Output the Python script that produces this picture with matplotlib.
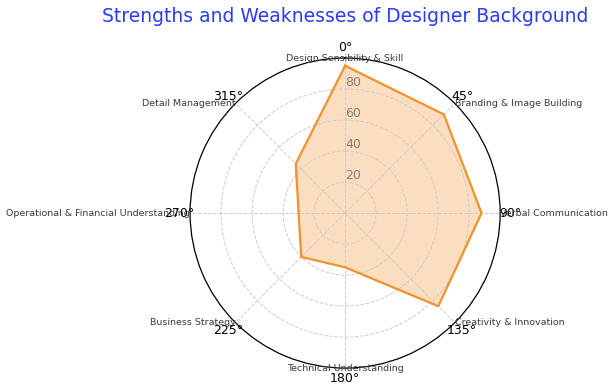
import numpy as np
import matplotlib
matplotlib.use("Agg")
import matplotlib.pyplot as plt

categories = ["Design Sensibility & Skill", "Branding & Image Building", "Verbal Communication",
              "Creativity & Innovation", "Technical Understanding", "Business Strategy",
              "Operational & Financial Understanding", "Detail Management"]
values = [95, 90, 88, 85, 35, 40, 30, 45]
rticks = [20, 40, 60, 80]

angles = np.linspace(0, 2 * np.pi, len(categories), endpoint=False)
a_closed = np.append(angles, angles[0])
v_closed = np.append(values, values[0])

fig = plt.figure(figsize=(6.13, 3.92), dpi=100)
ax = fig.add_axes([0.31, 0.061, 0.506, 0.791], projection='polar')
ax.set_theta_zero_location('N')
ax.set_theta_direction(-1)
ax.set_ylim(0, 100)

ax.plot(a_closed, v_closed, color='#f0922e', linewidth=1.6)
ax.fill(a_closed, v_closed, color='#f5a04a', alpha=0.35)

ax.set_thetagrids(np.degrees(angles))
ax.tick_params(axis='x', labelsize=9, pad=-3)
ax.set_yticks(rticks)
ax.set_yticklabels([str(t) for t in rticks], color='grey', fontsize=9)
ax.set_rlabel_position(0)
ax.grid(True, linestyle='--', color='#cccccc', linewidth=0.7)
ax.spines['polar'].set_linewidth(0.9)

# category names placed on the outer ring
for ang, lab in zip(angles, categories):
    deg = np.degrees(ang)
    if deg in (0, 180):
        ha = 'center'
    elif deg < 180:
        ha = 'left'
    else:
        ha = 'right'
    ax.text(ang, 100, lab, ha=ha, va='center', fontsize=6.8, color='#3a3a3a')

ax.set_title("Strengths and Weaknesses of Designer Background", color='#2a3cf0',
             fontsize=13.5, pad=26)

fig.savefig("out.png", dpi=100)
